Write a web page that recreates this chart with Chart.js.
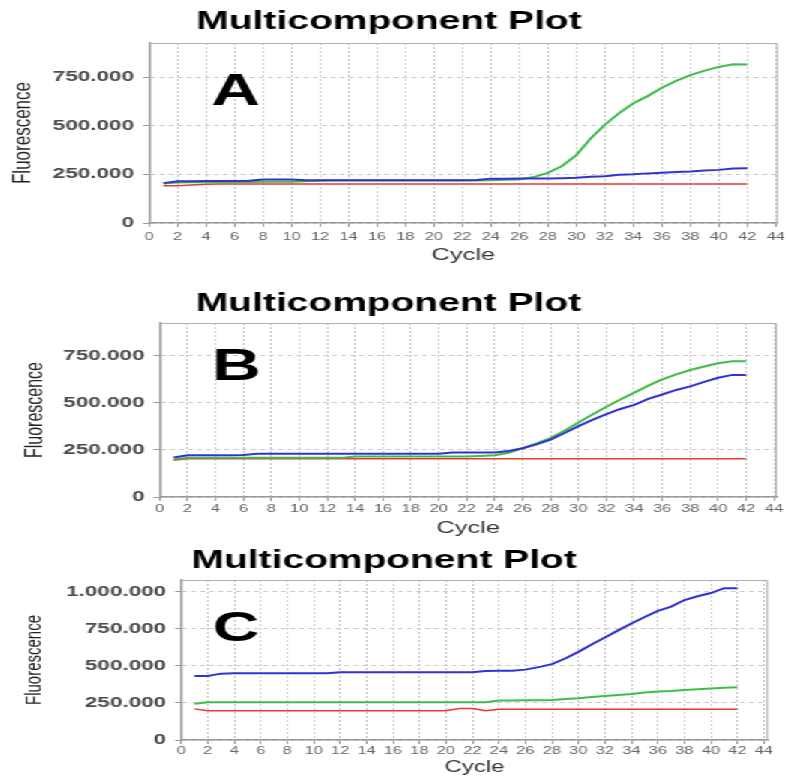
<!DOCTYPE html>
<html>
<head>
<meta charset="utf-8">
<script src="https://cdn.jsdelivr.net/npm/chart.js@4.4.1/dist/chart.umd.min.js"></script>
<style>
  html, body { margin: 0; padding: 0; background: #fff; }
  /* the source picture is stretched sideways, so the charts are drawn narrow and widened */
  #stretch { width: 524px; transform: scaleX(1.5); transform-origin: 0 0; }
  canvas { display: block; }
</style>
</head>
<body>
<div id="stretch">
  <canvas id="plotA" width="524" height="270"></canvas>
  <canvas id="plotB" width="524" height="270"></canvas>
  <canvas id="plotC" width="524" height="238"></canvas>
</div>
<script>
const cycles = [1, 2, 3, 4, 5, 6, 7, 8, 9, 10, 11, 12, 13, 14, 15, 16, 17, 18, 19, 20, 21,
  22, 23, 24, 25, 26, 27, 28, 29, 30, 31, 32, 33, 34, 35, 36, 37, 38, 39, 40, 41, 42];
const xTicks = [0, 2, 4, 6, 8, 10, 12, 14, 16, 18, 20, 22, 24, 26, 28, 30, 32, 34, 36, 38, 40, 42, 44];
const yTicksAB = [0, 250000, 500000, 750000];
const yTicksC = [0, 250000, 500000, 750000, 1000000];

const blueA = [205000, 215000, 215000, 216000, 216000, 216000, 217000, 224000, 224000, 224000,
  220000, 220000, 220000, 220000, 220000, 220000, 220000, 220000, 220000, 220000,
  220000, 220000, 221000, 228000, 228000, 229000, 229000, 229000, 230000, 232000,
  238000, 240000, 248000, 250000, 255000, 258000, 262000, 265000, 270000, 273000,
  280000, 281000];
const greenA = [203000, 208000, 209000, 210000, 210000, 210000, 211000, 212000, 212000, 212000,
  215000, 217000, 218000, 218000, 218000, 218000, 218000, 218000, 218000, 218000,
  218000, 218000, 218000, 220000, 222000, 224000, 236000, 258000, 293000, 349000,
  434000, 505000, 565000, 615000, 652000, 695000, 730000, 760000, 783000, 802000,
  816000, 815000];
const redA = [192000, 192000, 195000, 199000, 200000, 200000, 200000, 200000, 200000, 200000,
  200000, 200000, 200000, 200000, 200000, 200000, 200000, 200000, 200000, 200000,
  200000, 200000, 200000, 200000, 200000, 200000, 200000, 200000, 200000, 200000,
  200000, 200000, 200000, 200000, 200000, 200000, 200000, 200000, 200000, 200000,
  200000, 200000];

const blueB = [210000, 222000, 222000, 222000, 222000, 223000, 230000, 230000, 230000, 230000,
  230000, 230000, 230000, 230000, 230000, 230000, 230000, 230000, 230000, 230000,
  236000, 236000, 236000, 237000, 245000, 259000, 280000, 305000, 340000, 377000,
  410000, 440000, 468000, 490000, 522000, 545000, 569000, 588000, 612000, 634000,
  649000, 649000];
const greenB = [200000, 208000, 208000, 208000, 208000, 208000, 208000, 208000, 208000, 208000,
  208000, 208000, 208000, 215000, 215000, 215000, 215000, 215000, 215000, 215000,
  215000, 215000, 218000, 222000, 235000, 259000, 285000, 313000, 352000, 396000,
  438000, 480000, 518000, 555000, 592000, 625000, 652000, 675000, 694000, 711000,
  722000, 722000];
const redB = [195000, 203000, 203000, 203000, 203000, 203000, 203000, 203000, 203000, 203000,
  203000, 203000, 203000, 203000, 203000, 203000, 203000, 203000, 203000, 203000,
  203000, 203000, 203000, 203000, 203000, 203000, 203000, 203000, 203000, 203000,
  203000, 203000, 203000, 203000, 203000, 203000, 203000, 203000, 203000, 203000,
  203000, 203000];

const blueC = [432000, 432000, 448000, 450000, 450000, 450000, 450000, 450000, 450000, 450000,
  450000, 458000, 458000, 458000, 458000, 458000, 458000, 458000, 458000, 458000,
  458000, 458000, 466000, 468000, 468000, 475000, 492000, 512000, 550000, 595000,
  645000, 692000, 740000, 786000, 830000, 872000, 900000, 945000, 970000, 992000,
  1025000, 1025000];
const greenC = [245000, 255000, 255000, 255000, 255000, 255000, 255000, 255000, 255000, 255000,
  255000, 255000, 255000, 255000, 255000, 255000, 255000, 255000, 255000, 255000,
  255000, 255000, 255000, 266000, 267000, 268000, 268000, 270000, 276000, 282000,
  290000, 297000, 304000, 311000, 320000, 327000, 330000, 338000, 342000, 347000,
  352000, 356000];
const redC = [210000, 198000, 198000, 198000, 198000, 198000, 198000, 198000, 198000, 198000,
  198000, 198000, 198000, 198000, 198000, 198000, 198000, 198000, 198000, 198000,
  212000, 213000, 198000, 208000, 208000, 208000, 208000, 208000, 208000, 208000,
  208000, 208000, 208000, 208000, 208000, 208000, 208000, 208000, 208000, 208000,
  208000, 208000];

const FONT = "'Liberation Sans', Arial, sans-serif";

function dotted(v) {
  return String(v).replace(/\B(?=(\d{3})+(?!\d))/g, ".");
}

function points(values) {
  return values.map((v, i) => ({ x: cycles[i], y: v }));
}

// top and right edges of the plot box, plus the big panel letter
const panelDecor = {
  id: "panelDecor",
  beforeDatasetsDraw(chart, args, opts) {
    const { ctx, chartArea: a, scales } = chart;
    ctx.save();
    ctx.strokeStyle = "#b0b0b0";
    ctx.lineWidth = 1;
    ctx.beginPath();
    ctx.moveTo(a.left, a.top + 0.5);
    ctx.lineTo(a.right - 0.5, a.top + 0.5);
    ctx.lineTo(a.right - 0.5, a.bottom);
    ctx.stroke();

    ctx.fillStyle = "#000";
    ctx.font = `bold ${opts.size}px ${FONT}`;
    ctx.textAlign = "center";
    ctx.textBaseline = "alphabetic";
    ctx.fillText(opts.text, scales.x.getPixelForValue(opts.at[0]), scales.y.getPixelForValue(opts.at[1]));
    ctx.restore();
  }
};

function buildPanel(id, blue, green, red, cfg) {
  const H = document.getElementById(id).height;
  return new Chart(document.getElementById(id), {
    type: "line",
    data: {
      datasets: [
        { data: points(blue), borderColor: "#3232d2", borderWidth: 2 },
        { data: points(green), borderColor: "#3fbc4a", borderWidth: 2 },
        { data: points(red), borderColor: "#e53a30", borderWidth: 1.5 }
      ]
    },
    options: {
      responsive: false,
      animation: false,
      events: [],
      elements: { point: { radius: 0 }, line: { tension: 0 } },
      layout: { padding: { left: 0, right: cfg.padRight, top: 0, bottom: 0 } },
      plugins: {
        legend: { display: false },
        tooltip: { enabled: false },
        title: {
          display: true,
          text: "Multicomponent Plot",
          color: "#000",
          font: { family: FONT, size: 26, weight: "bold" },
          padding: { top: cfg.titleTop, bottom: cfg.titleBottom }
        },
        panelDecor: { text: cfg.letter, at: cfg.letterAt, size: cfg.letterSize }
      },
      scales: {
        x: {
          type: "linear",
          min: 0,
          max: cfg.xMax,
          afterBuildTicks: (s) => { s.ticks = xTicks.map((v) => ({ value: v })); },
          afterFit: (s) => {
            s.height = H - cfg.bottom;
            s.paddingLeft = 0;
            s.paddingRight = 0;
          },
          ticks: {
            autoSkip: false,
            maxRotation: 0,
            padding: cfg.xTickPad,
            color: "#666",
            font: { family: FONT, size: 11 }
          },
          grid: { color: "#c6c6c6", tickColor: "#999", tickLength: 4, tickBorderDash: [] },
          border: { color: "#9a9a9a", width: 1.5, dash: [2, 2] },
          title: {
            display: true,
            text: "Cycle",
            color: "#333",
            font: { family: FONT, size: cfg.cycleSize },
            padding: { top: 0, bottom: cfg.cyclePad }
          }
        },
        y: {
          min: 0,
          max: cfg.yMax,
          afterBuildTicks: (s) => { s.ticks = cfg.yTicks.map((v) => ({ value: v })); },
          afterFit: (s) => {
            s.width = cfg.left;
            s.paddingTop = 0;
            s.paddingBottom = 0;
          },
          ticks: {
            padding: 6,
            color: "#4a4a4a",
            font: { family: FONT, size: 15, weight: "bold" },
            callback: (v) => dotted(v)
          },
          grid: { color: "#c6c6c6", tickColor: "#999", tickLength: 4, tickBorderDash: [] },
          border: { color: "#9a9a9a", width: 1.5, dash: [3, 3] },
          title: {
            display: true,
            text: "Fluorescence",
            color: "#222",
            font: { family: FONT, size: cfg.fluoSize },
            padding: { top: cfg.fluoPad, bottom: 0 }
          }
        }
      }
    },
    plugins: [panelDecor]
  });
}

buildPanel("plotA", blueA, greenA, redA, {
  left: 99.3, padRight: 5.3, bottom: 223, xMax: 44.14, yMax: 925000, yTicks: yTicksAB,
  titleTop: 6.4, titleBottom: 5.4, xTickPad: 3.4, cycleSize: 17, cyclePad: 4.8,
  fluoSize: 17, fluoPad: 5.1, letter: "A", letterAt: [6.07, 606000], letterSize: 45
});

buildPanel("plotB", blueB, greenB, redB, {
  left: 106.3, padRight: 6, bottom: 227, xMax: 44.2, yMax: 925000, yTicks: yTicksAB,
  titleTop: 17.9, titleBottom: 3.9, xTickPad: 1.4, cycleSize: 17, cyclePad: 1.5,
  fluoSize: 16, fluoPad: 13.7, letter: "B", letterAt: [5.5, 622000], letterSize: 45
});

buildPanel("plotC", blueC, greenC, redC, {
  left: 120.7, padRight: 11.8, bottom: 200, xMax: 44.32, yMax: 1080000, yTicks: yTicksC,
  titleTop: 5.4, titleBottom: 3.4, xTickPad: 0.4, cycleSize: 16, cyclePad: 0.9,
  fluoSize: 15, fluoPad: 14.3, letter: "C", letterAt: [4.15, 669000], letterSize: 43
});
</script>
</body>
</html>
